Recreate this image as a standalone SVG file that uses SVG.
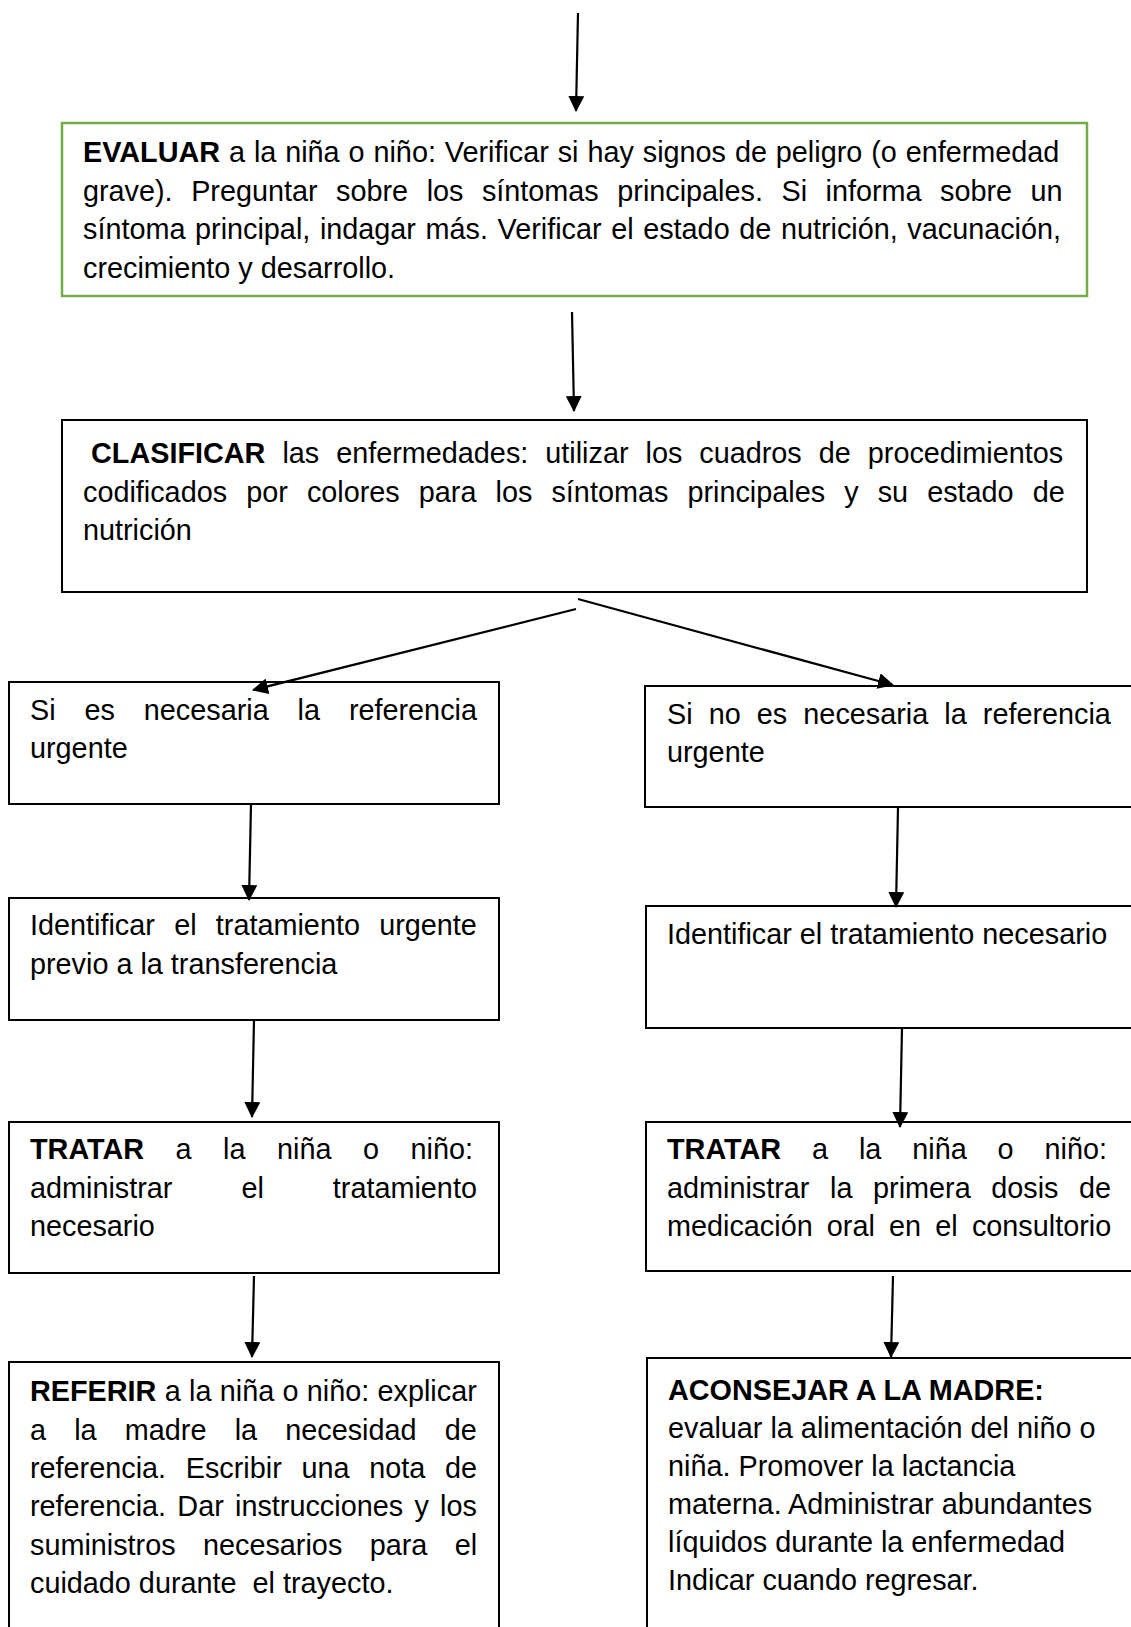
<svg xmlns="http://www.w3.org/2000/svg" width="1131" height="1627" viewBox="0 0 1131 1627">
<defs>
<marker id="ah" viewBox="0 0 16 16" refX="15" refY="8" markerWidth="16" markerHeight="16" markerUnits="userSpaceOnUse" orient="auto">
<path d="M0,0 L16,8 L0,16 z" fill="#000"/>
</marker>
<style>
.box{fill:#fff;stroke:#000;stroke-width:2}
.gbox{fill:#fff;stroke:#70AD47;stroke-width:2.5}
.t{font-family:"Liberation Sans",Arial,sans-serif;font-size:28.8px;fill:#000}
.b{font-weight:bold}
.c{stroke:#000;stroke-width:2.2;fill:none;marker-end:url(#ah)}
</style>
</defs>
<rect width="1131" height="1627" fill="#fff"/>

<g id="evaluar">
<rect class="gbox" x="62" y="123" width="1025" height="173"/>
<text class="t" x="83" y="162" word-spacing="0.9"><tspan class="b">EVALUAR</tspan> a la niña o niño: Verificar si hay signos de peligro (o enfermedad</text>
<text class="t" x="83" y="200.5" word-spacing="10.5">grave). Preguntar sobre los síntomas principales. Si informa sobre un</text>
<text class="t" x="83" y="239" word-spacing="1.6">síntoma principal, indagar más. Verificar el estado de nutrición, vacunación,</text>
<text class="t" x="83" y="277.5">crecimiento y desarrollo.</text>
</g>

<g id="clasificar">
<rect class="box" x="62" y="420" width="1025" height="172"/>
<text class="t" x="91" y="463" word-spacing="9"><tspan class="b">CLASIFICAR</tspan> las enfermedades: utilizar los cuadros de procedimientos</text>
<text class="t" x="83" y="501.5" word-spacing="11.1">codificados por colores para los síntomas principales y su estado de</text>
<text class="t" x="83" y="540">nutrición</text>
</g>

<g id="si-urgente">
<rect class="box" x="9" y="682" width="490" height="122"/>
<text class="t" x="30" y="720" word-spacing="20.9">Si es necesaria la referencia</text>
<text class="t" x="30" y="758">urgente</text>
</g>

<g id="no-urgente">
<rect class="box" x="645" y="686" width="500" height="121"/>
<text class="t" x="667" y="724" word-spacing="8.1">Si no es necesaria la referencia</text>
<text class="t" x="667" y="762">urgente</text>
</g>

<g id="identificar-urgente">
<rect class="box" x="9" y="898" width="490" height="122"/>
<text class="t" x="30" y="935" word-spacing="11.3">Identificar el tratamiento urgente</text>
<text class="t" x="30" y="973.5">previo a la transferencia</text>
</g>

<g id="identificar-necesario">
<rect class="box" x="646" y="906" width="500" height="122"/>
<text class="t" x="667" y="944">Identificar el tratamiento necesario</text>
</g>

<g id="tratar-izq">
<rect class="box" x="9" y="1122" width="490" height="151"/>
<text class="t" x="30" y="1159" word-spacing="23.5"><tspan class="b">TRATAR</tspan> a la niña o niño:</text>
<text class="t" x="30" y="1197.5" word-spacing="61">administrar el tratamiento</text>
<text class="t" x="30" y="1236">necesario</text>
</g>

<g id="tratar-der">
<rect class="box" x="646" y="1122" width="500" height="149"/>
<text class="t" x="667" y="1159" word-spacing="22.9"><tspan class="b">TRATAR</tspan> a la niña o niño:</text>
<text class="t" x="667" y="1197.5" word-spacing="12.6">administrar la primera dosis de</text>
<text class="t" x="667" y="1236" word-spacing="6.2">medicación oral en el consultorio</text>
</g>

<g id="referir">
<rect class="box" x="9" y="1362" width="490" height="280"/>
<text class="t" x="30" y="1401" word-spacing="0.3"><tspan class="b">REFERIR</tspan> a la niña o niño: explicar</text>
<text class="t" x="30" y="1439.5" word-spacing="20.2">a la madre la necesidad de</text>
<text class="t" x="30" y="1478" word-spacing="11.7">referencia. Escribir una nota de</text>
<text class="t" x="30" y="1516" word-spacing="3.3">referencia. Dar instrucciones y los</text>
<text class="t" x="30" y="1554.5" word-spacing="19.4">suministros necesarios para el</text>
<text class="t" x="30" y="1593" xml:space="preserve">cuidado durante  el trayecto.</text>
</g>

<g id="aconsejar">
<rect class="box" x="647" y="1358" width="500" height="290"/>
<text class="t b" x="668" y="1399.5">ACONSEJAR A LA MADRE:</text>
<text class="t" x="668" y="1437.5">evaluar la alimentación del niño o</text>
<text class="t" x="668" y="1475.5">niña. Promover la lactancia</text>
<text class="t" x="668" y="1513.5">materna. Administrar abundantes</text>
<text class="t" x="668" y="1552">líquidos durante la enfermedad</text>
<text class="t" x="668" y="1590">Indicar cuando regresar.</text>
</g>

<g id="connectors">
<line class="c" x1="578" y1="13" x2="576" y2="111"/>
<line class="c" x1="572" y1="312" x2="574" y2="411"/>
<line class="c" x1="576" y1="609" x2="253" y2="690"/>
<line class="c" x1="578" y1="599" x2="893" y2="685"/>
<line class="c" x1="251" y1="804" x2="249" y2="900"/>
<line class="c" x1="898" y1="808" x2="896" y2="907"/>
<line class="c" x1="254" y1="1020" x2="252" y2="1117"/>
<line class="c" x1="902" y1="1028" x2="900" y2="1127"/>
<line class="c" x1="254" y1="1276" x2="252" y2="1357"/>
<line class="c" x1="893" y1="1276" x2="891" y2="1357"/>
</g>
</svg>
